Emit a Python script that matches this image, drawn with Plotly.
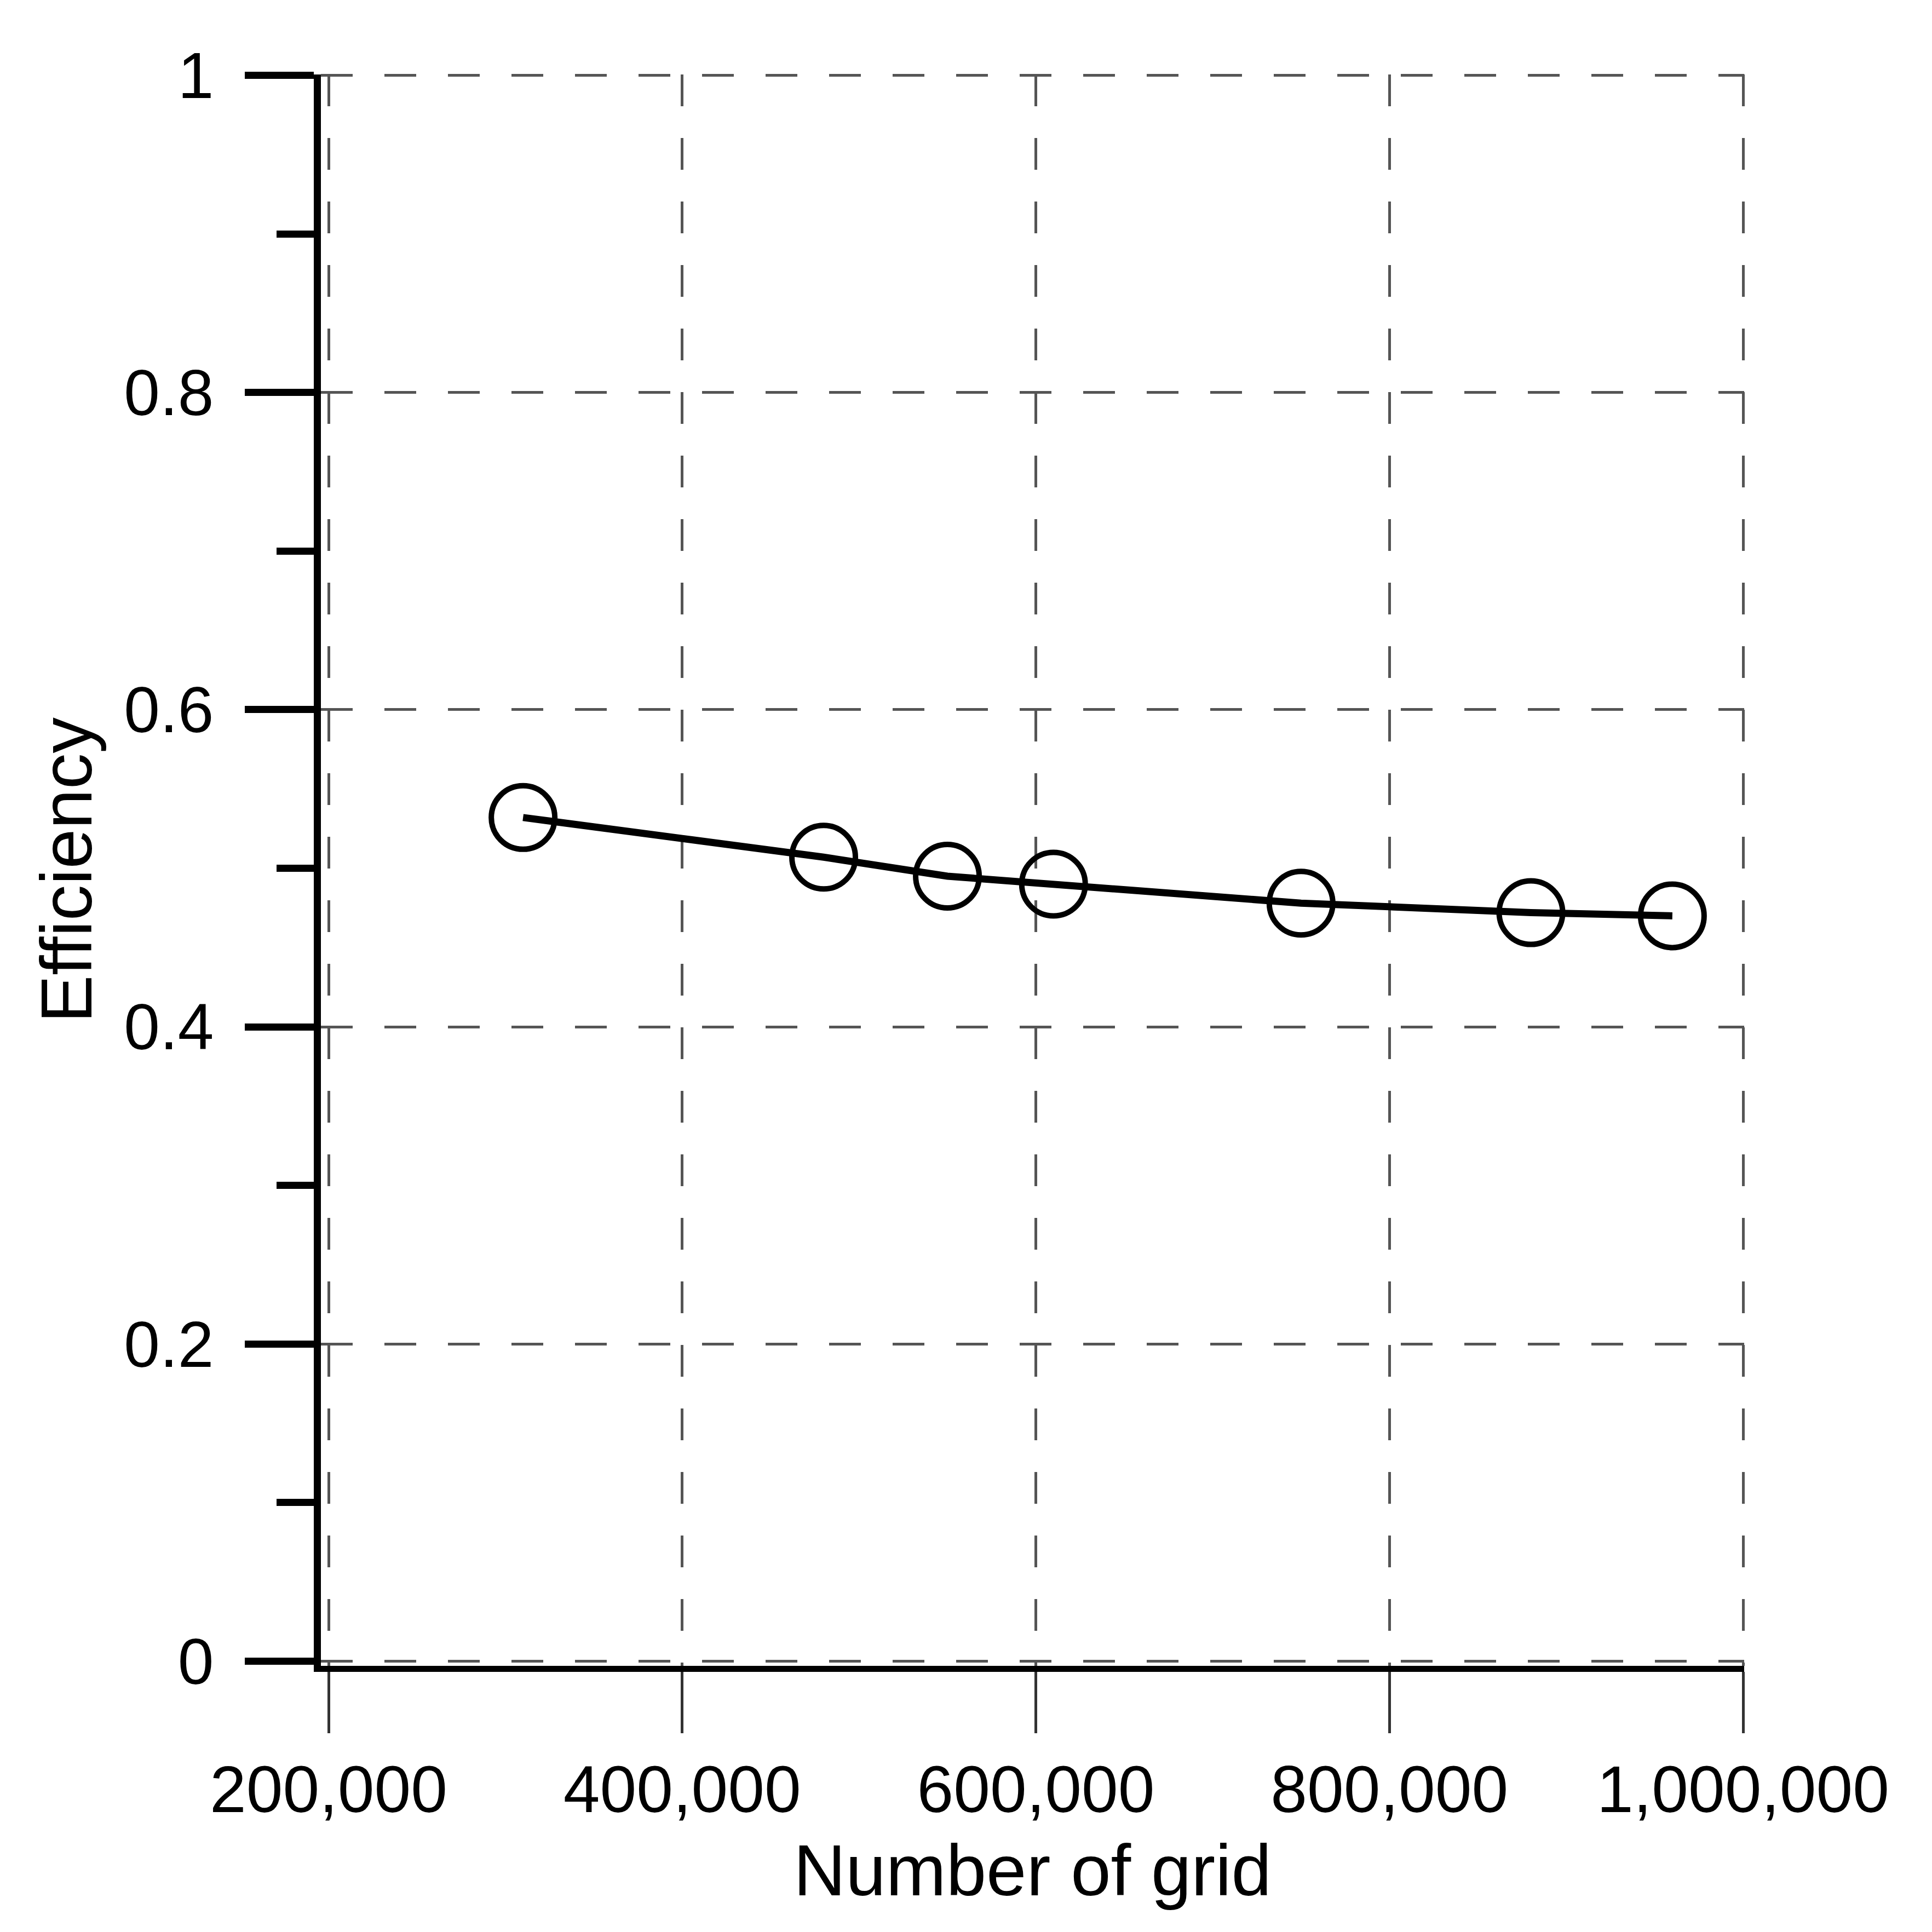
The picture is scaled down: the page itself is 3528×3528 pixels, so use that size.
import plotly.graph_objects as go

# Grid study: efficiency vs number of grid cells
grid_count = [310000, 480000, 550000, 610000, 750000, 880000, 960000]
efficiency = [0.532, 0.507, 0.495, 0.490, 0.478, 0.472, 0.470]

x_ticks = [200000, 400000, 600000, 800000, 1000000]
y_ticks = [0, 0.2, 0.4, 0.6, 0.8, 1]

font_name = "Liberation Sans, Arial, sans-serif"

fig = go.Figure()
fig.add_trace(go.Scatter(
    x=grid_count, y=efficiency, mode='lines+markers',
    line=dict(color='black', width=13),
    marker=dict(symbol='circle-open', size=116, color='black',
                line=dict(width=10, color='black')),
    showlegend=False))

fig.update_layout(
    width=3528, height=3528,
    margin=dict(l=578, r=351, t=128, b=494, pad=0),
    paper_bgcolor='white', plot_bgcolor='white',
    font=dict(family=font_name, color='black'),
    xaxis=dict(
        # range padded a little so the edge grid lines are kept
        range=[195664, 1000619], tickvals=x_ticks, tickformat=',',
        ticks='outside', ticklen=112, tickwidth=5, tickcolor='#333',
        showline=True, linecolor='black', linewidth=11,
        showgrid=True, gridcolor='#555', gridwidth=5, griddash='58px,58px',
        zeroline=False, tickfont=dict(size=120),
        title=dict(text='Number of grid', font=dict(size=132), standoff=40)),
    yaxis=dict(
        range=[-0.003, 1.0006], tickvals=y_ticks,
        ticks='outside', ticklen=126, tickwidth=13, tickcolor='black',
        showline=True, linecolor='black', linewidth=13,
        showgrid=True, gridcolor='#555', gridwidth=5, griddash='58px,58px',
        zeroline=False, tickfont=dict(size=118), ticklabelstandoff=33,
        minor=dict(dtick=0.1, tick0=0, ticks='outside', ticklen=68,
                   tickwidth=13, tickcolor='black', showgrid=False),
        title=dict(text='Efficiency', font=dict(size=131), standoff=20)),
)

fig.write_html("out.html")
